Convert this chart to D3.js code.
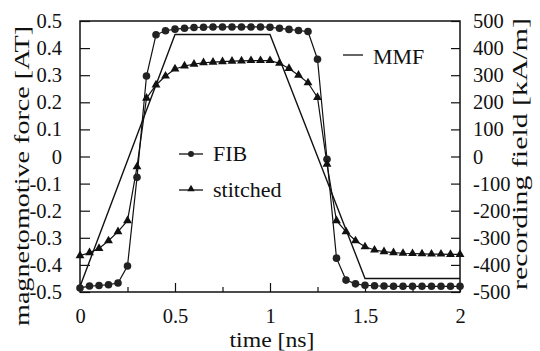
<!DOCTYPE html>
<html>
<head>
<meta charset="utf-8">
<script src="https://cdn.jsdelivr.net/npm/d3@7"></script>
<style>
  body { margin: 0; background: #fff; }
  svg { display: block; }
  text { font-family: "Liberation Serif", "Times New Roman", serif; fill: #111; }
</style>
</head>
<body>
<div id="chart"></div>
<script>
// time axis [ns], one sample every 0.05 ns
const time = [0, 0.05, 0.1, 0.15, 0.2, 0.25, 0.3, 0.35, 0.4, 0.45,
  0.5, 0.55, 0.6, 0.65, 0.7, 0.75, 0.8, 0.85, 0.9, 0.95,
  1.0, 1.05, 1.1, 1.15, 1.2, 1.25, 1.3, 1.35, 1.4, 1.45,
  1.5, 1.55, 1.6, 1.65, 1.7, 1.75, 1.8, 1.85, 1.9, 1.95, 2.0];

// recording field
const fib = [-0.485, -0.478, -0.476, -0.473, -0.467, -0.404, -0.077, 0.297, 0.449, 0.464,
  0.470, 0.473, 0.476, 0.477, 0.478, 0.478, 0.478, 0.478, 0.478, 0.478,
  0.477, 0.473, 0.469, 0.465, 0.461, 0.359, -0.010, -0.375, -0.456, -0.470,
  -0.475, -0.477, -0.478, -0.479, -0.479, -0.479, -0.479, -0.479, -0.479, -0.479, -0.479];

const stitched = [-0.366, -0.355, -0.339, -0.311, -0.277, -0.237, -0.038, 0.215, 0.264, 0.297,
  0.323, 0.334, 0.341, 0.346, 0.348, 0.350, 0.352, 0.353, 0.354, 0.354,
  0.354, 0.344, 0.325, 0.300, 0.272, 0.218, -0.028, -0.237, -0.277, -0.311,
  -0.333, -0.345, -0.351, -0.355, -0.357, -0.358, -0.359, -0.360, -0.360, -0.361, -0.361];

// MMF pulse corners
const mmfTime = [0, 0.5, 1.0, 1.5, 2.0];
const mmf = [-0.48, 0.45, 0.45, -0.45, -0.45];

const xTicks = [0, 0.5, 1, 1.5, 2];
const xLabels = ["0", "0.5", "1", "1.5", "2"];
const xMinor = [0.25, 0.75, 1.25, 1.75];
const leftTicks = [0.5, 0.4, 0.3, 0.2, 0.1, 0, -0.1, -0.2, -0.3, -0.4, -0.5];
const leftLabels = ["0.5", "0.4", "0.3", "0.2", "0.1", "0", "-0.1", "-0.2", "-0.3", "-0.4", "-0.5"];
const rightTicks = [500, 400, 300, 200, 100, 0, -100, -200, -300, -400, -500];
const rightLabels = ["500", "400", "300", "200", "100", "0", "-100", "-200", "-300", "-400", "-500"];

const W = 540, H = 351;
const margin = { top: 21, right: 80, bottom: 59, left: 80 };
const width = W - margin.left - margin.right;
const height = H - margin.top - margin.bottom;

const svg = d3.select("#chart").append("svg")
  .attr("width", W)
  .attr("height", H);

const g = svg.append("g")
  .attr("transform", `translate(${margin.left},${margin.top})`);

const x = d3.scaleLinear().domain([0, 2]).range([0, width]);
const y = d3.scaleLinear().domain([-0.5, 0.5]).range([height, 0]);
const y2 = d3.scaleLinear().domain([-500, 500]).range([height, 0]);

// axes, ticks pointing inward
const xAxis = g.append("g")
  .attr("transform", `translate(0,${height})`)
  .call(d3.axisBottom(x).tickValues(xTicks)
    .tickSize(-9)
    .tickFormat((d, i) => xLabels[i]));

g.append("g")
  .attr("transform", `translate(0,${height})`)
  .call(d3.axisBottom(x).tickValues(xMinor).tickSize(-5).tickFormat(""))
  .select(".domain").remove();

const yAxis = g.append("g")
  .call(d3.axisLeft(y).tickValues(leftTicks)
    .tickSize(-10).tickPadding(18)
    .tickFormat((d, i) => leftLabels[i]));

const y2Axis = g.append("g")
  .attr("transform", `translate(${width},0)`)
  .call(d3.axisRight(y2).tickValues(rightTicks)
    .tickSize(-9).tickPadding(13)
    .tickFormat((d, i) => rightLabels[i]));

[xAxis, yAxis, y2Axis].forEach(a => {
  a.select(".domain").remove();
  a.selectAll("text")
    .style("font-size", "20.5px")
    .style("font-family", '"Liberation Serif", "Times New Roman", serif')
    .attr("fill", "#111");
});
xAxis.selectAll("text").attr("y", 31).attr("dy", null);
svg.selectAll(".tick line").attr("stroke", "#111").attr("stroke-width", 1.2);

// frame
g.append("rect")
  .attr("width", width)
  .attr("height", height)
  .attr("fill", "none")
  .attr("stroke", "#111")
  .attr("stroke-width", 1.5);

const line = d3.line()
  .x(d => x(d[0]))
  .y(d => y(d[1]));

const fibPts = time.map((t, i) => [t, fib[i]]);
const stPts = time.map((t, i) => [t, stitched[i]]);
const mmfPts = mmfTime.map((t, i) => [t, mmf[i]]);

g.append("path").datum(mmfPts)
  .attr("d", line).attr("fill", "none")
  .attr("stroke", "#111").attr("stroke-width", 1.4);

g.append("path").datum(fibPts)
  .attr("d", line).attr("fill", "none")
  .attr("stroke", "#111").attr("stroke-width", 1.2);

g.append("path").datum(stPts)
  .attr("d", line).attr("fill", "none")
  .attr("stroke", "#111").attr("stroke-width", 1.2);

g.selectAll(".fib-dot")
  .data(fibPts)
  .enter().append("circle")
  .attr("class", "fib-dot")
  .attr("cx", d => x(d[0]))
  .attr("cy", d => y(d[1]))
  .attr("r", 3.8)
  .attr("fill", "#222");

const tri = d3.symbol().type(d3.symbolTriangle).size(34);
g.selectAll(".st-dot")
  .data(stPts)
  .enter().append("path")
  .attr("class", "st-dot")
  .attr("d", tri)
  .attr("transform", d => `translate(${x(d[0])},${y(d[1])})`)
  .attr("fill", "#111");

// legend
const leg = svg.append("g");
leg.append("line").attr("x1", 179).attr("x2", 203).attr("y1", 154).attr("y2", 154)
  .attr("stroke", "#111").attr("stroke-width", 1.3);
leg.append("circle").attr("cx", 191).attr("cy", 154).attr("r", 3).attr("fill", "#222");
leg.append("text").attr("x", 213).attr("y", 161).style("font-size", "22px").text("FIB");

leg.append("line").attr("x1", 179).attr("x2", 203).attr("y1", 190).attr("y2", 190)
  .attr("stroke", "#111").attr("stroke-width", 1.3);
leg.append("path").attr("d", d3.symbol().type(d3.symbolTriangle).size(24))
  .attr("transform", "translate(191,189)").attr("fill", "#111");
leg.append("text").attr("x", 213).attr("y", 197).style("font-size", "22px").text("stitched");

leg.append("line").attr("x1", 343).attr("x2", 363).attr("y1", 55).attr("y2", 55)
  .attr("stroke", "#111").attr("stroke-width", 1.3);
leg.append("text").attr("x", 373).attr("y", 64).style("font-size", "22px").text("MMF");

// axis titles
svg.append("text")
  .attr("x", 272).attr("y", 347)
  .attr("text-anchor", "middle")
  .attr("textLength", 85)
  .attr("lengthAdjust", "spacingAndGlyphs")
  .style("font-size", "21px")
  .text("time [ns]");

svg.append("text")
  .attr("transform", "translate(29,176) rotate(-90)")
  .attr("text-anchor", "middle")
  .attr("textLength", 300)
  .attr("lengthAdjust", "spacingAndGlyphs")
  .style("font-size", "22px")
  .text("magnetomotive force [AT]");

svg.append("text")
  .attr("transform", "translate(527,154) rotate(-90)")
  .attr("text-anchor", "middle")
  .attr("textLength", 272)
  .attr("lengthAdjust", "spacingAndGlyphs")
  .style("font-size", "22px")
  .text("recording field [kA/m]");
</script>
</body>
</html>
